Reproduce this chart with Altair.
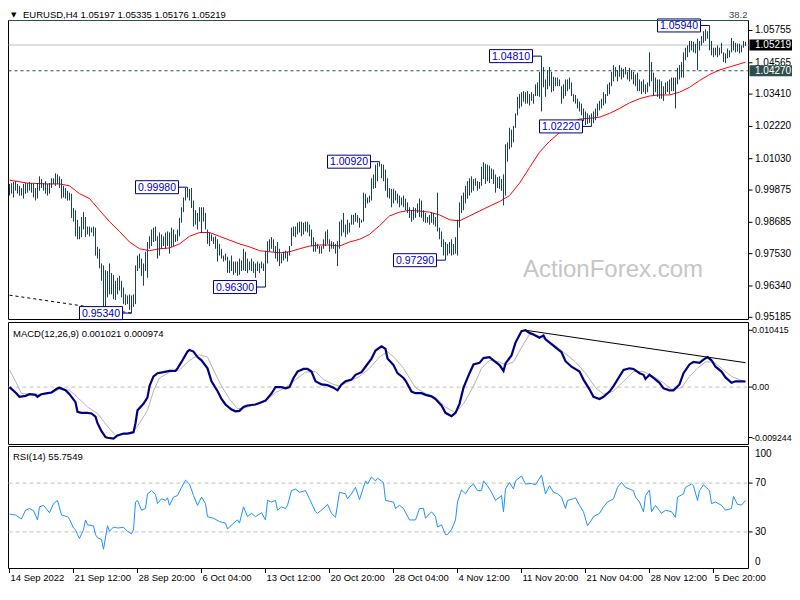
import altair as alt
import pandas as pd

# ---------------- price bars (H4, high / low) ----------------
HIGH = [
    1.0010, 1.0013, 1.0017, 1.0020, 1.0010, 1.0003, 0.9995, 1.0010, 1.0013, 1.0013,
    1.0017, 1.0013, 1.0010, 0.9995, 1.0013, 1.0038, 1.0028, 1.0013, 1.0020, 1.0010,
    1.0013, 1.0031, 1.0031, 1.0049, 1.0045, 1.0038, 1.0028, 1.0003, 0.9995, 0.9985,
    0.9978, 0.9974, 0.9921, 0.9913, 0.9878, 0.9853, 0.9888, 0.9906, 0.9888, 0.9853,
    0.9853, 0.9849, 0.9853, 0.9849, 0.9778, 0.9771, 0.9717, 0.9710, 0.9692, 0.9689,
    0.9717, 0.9682, 0.9675, 0.9653, 0.9664, 0.9671, 0.9653, 0.9628, 0.9603, 0.9599,
    0.9603, 0.9599, 0.9603, 0.9710, 0.9746, 0.9753, 0.9735, 0.9717, 0.9760, 0.9796,
    0.9817, 0.9842, 0.9849, 0.9853, 0.9817, 0.9831, 0.9824, 0.9817, 0.9831, 0.9835,
    0.9831, 0.9849, 0.9842, 0.9824, 0.9842, 0.9885, 0.9924, 0.9960, 0.9995, 0.9998,
    0.9992, 0.9995, 0.9949, 0.9913, 0.9903, 0.9924, 0.9924, 0.9924, 0.9903, 0.9842,
    0.9831, 0.9824, 0.9814, 0.9817, 0.9806, 0.9789, 0.9771, 0.9746, 0.9753, 0.9742,
    0.9728, 0.9746, 0.9724, 0.9724, 0.9724, 0.9735, 0.9728, 0.9771, 0.9760, 0.9735,
    0.9724, 0.9735, 0.9724, 0.9717, 0.9724, 0.9717, 0.9724, 0.9717, 0.9764, 0.9799,
    0.9806, 0.9814, 0.9806, 0.9781, 0.9796, 0.9771, 0.9753, 0.9760, 0.9764, 0.9760,
    0.9781, 0.9849, 0.9853, 0.9853, 0.9867, 0.9871, 0.9871, 0.9867, 0.9871, 0.9871,
    0.9860, 0.9842, 0.9814, 0.9796, 0.9789, 0.9781, 0.9781, 0.9806, 0.9835, 0.9842,
    0.9806, 0.9799, 0.9796, 0.9789, 0.9799, 0.9871, 0.9878, 0.9903, 0.9860, 0.9878,
    0.9867, 0.9896, 0.9896, 0.9903, 0.9896, 0.9885, 0.9878, 0.9978, 0.9974, 0.9960,
    0.9967, 1.0031, 1.0045, 1.0081, 1.0088, 1.0092, 1.0084, 1.0081, 1.0063, 1.0031,
    0.9995, 0.9992, 0.9992, 0.9985, 0.9974, 0.9967, 0.9960, 0.9967, 0.9956, 0.9942,
    0.9924, 0.9913, 0.9924, 0.9921, 0.9938, 0.9956, 0.9949, 0.9913, 0.9903, 0.9888,
    0.9896, 0.9906, 0.9903, 0.9888, 0.9978, 0.9849, 0.9835, 0.9806, 0.9796, 0.9789,
    0.9796, 0.9806, 0.9789, 0.9814, 0.9878, 0.9942, 0.9967, 0.9978, 1.0003, 1.0020,
    1.0031, 1.0038, 1.0028, 1.0031, 1.0020, 1.0017, 1.0074, 1.0090, 1.0084, 1.0081,
    1.0077, 1.0067, 1.0063, 1.0045, 1.0035, 1.0038, 1.0028, 1.0045, 1.0156, 1.0163,
    1.0217, 1.0210, 1.0224, 1.0270, 1.0331, 1.0341, 1.0348, 1.0352, 1.0348, 1.0352,
    1.0341, 1.0348, 1.0341, 1.0377, 1.0384, 1.0423, 1.0481, 1.0441, 1.0395, 1.0430,
    1.0441, 1.0423, 1.0405, 1.0402, 1.0402, 1.0395, 1.0370, 1.0377, 1.0395, 1.0395,
    1.0402, 1.0384, 1.0341, 1.0338, 1.0324, 1.0313, 1.0306, 1.0288, 1.0277, 1.0270,
    1.0263, 1.0270, 1.0277, 1.0288, 1.0306, 1.0316, 1.0324, 1.0348, 1.0341, 1.0377,
    1.0384, 1.0423, 1.0448, 1.0441, 1.0430, 1.0448, 1.0438, 1.0434, 1.0441, 1.0423,
    1.0438, 1.0430, 1.0423, 1.0413, 1.0420, 1.0395, 1.0388, 1.0395, 1.0377, 1.0384,
    1.0495, 1.0459, 1.0420, 1.0402, 1.0395, 1.0395, 1.0388, 1.0370, 1.0384, 1.0388,
    1.0395, 1.0402, 1.0402, 1.0402, 1.0438, 1.0448, 1.0459, 1.0495, 1.0512, 1.0520,
    1.0537, 1.0537, 1.0534, 1.0527, 1.0545, 1.0537, 1.0555, 1.0573, 1.0580, 1.0573,
    1.0594, 1.0537, 1.0512, 1.0512, 1.0520, 1.0512, 1.0530, 1.0495, 1.0491, 1.0509,
    1.0502, 1.0548, 1.0537, 1.0530, 1.0527, 1.0527, 1.0520, 1.0537, 1.0534,
]
LOW = [
    0.9967, 0.9974, 0.9960, 0.9985, 0.9974, 0.9967, 0.9967, 0.9956, 0.9974, 0.9978,
    0.9985, 0.9978, 0.9960, 0.9949, 0.9956, 0.9985, 0.9995, 0.9985, 0.9974, 0.9967,
    0.9974, 0.9995, 1.0010, 1.0003, 1.0010, 0.9995, 0.9956, 0.9960, 0.9956, 0.9949,
    0.9949, 0.9885, 0.9871, 0.9817, 0.9806, 0.9806, 0.9814, 0.9842, 0.9814, 0.9824,
    0.9817, 0.9831, 0.9817, 0.9746, 0.9735, 0.9699, 0.9653, 0.9550, 0.9557, 0.9592,
    0.9603, 0.9603, 0.9585, 0.9582, 0.9603, 0.9617, 0.9592, 0.9567, 0.9564, 0.9567,
    0.9546, 0.9534, 0.9557, 0.9567, 0.9689, 0.9699, 0.9671, 0.9635, 0.9689, 0.9664,
    0.9771, 0.9781, 0.9796, 0.9799, 0.9735, 0.9746, 0.9771, 0.9781, 0.9771, 0.9781,
    0.9753, 0.9778, 0.9781, 0.9796, 0.9799, 0.9817, 0.9867, 0.9906, 0.9949, 0.9960,
    0.9949, 0.9921, 0.9853, 0.9860, 0.9842, 0.9871, 0.9831, 0.9871, 0.9842, 0.9789,
    0.9781, 0.9799, 0.9789, 0.9771, 0.9724, 0.9746, 0.9735, 0.9724, 0.9728, 0.9682,
    0.9682, 0.9689, 0.9675, 0.9682, 0.9671, 0.9675, 0.9689, 0.9692, 0.9689, 0.9682,
    0.9692, 0.9689, 0.9682, 0.9664, 0.9689, 0.9682, 0.9699, 0.9689, 0.9630, 0.9717,
    0.9760, 0.9771, 0.9760, 0.9735, 0.9724, 0.9707, 0.9717, 0.9728, 0.9735, 0.9724,
    0.9746, 0.9781, 0.9817, 0.9814, 0.9824, 0.9831, 0.9817, 0.9824, 0.9835, 0.9831,
    0.9817, 0.9781, 0.9760, 0.9760, 0.9771, 0.9753, 0.9753, 0.9771, 0.9781, 0.9789,
    0.9760, 0.9771, 0.9771, 0.9753, 0.9707, 0.9771, 0.9817, 0.9831, 0.9814, 0.9824,
    0.9831, 0.9860, 0.9860, 0.9871, 0.9867, 0.9849, 0.9867, 0.9871, 0.9921, 0.9938,
    0.9942, 0.9949, 0.9992, 0.9995, 1.0020, 1.0074, 1.0031, 1.0020, 0.9985, 0.9960,
    0.9956, 0.9924, 0.9938, 0.9949, 0.9938, 0.9924, 0.9931, 0.9924, 0.9913, 0.9903,
    0.9885, 0.9871, 0.9878, 0.9885, 0.9903, 0.9888, 0.9885, 0.9871, 0.9867, 0.9867,
    0.9860, 0.9867, 0.9860, 0.9853, 0.9835, 0.9806, 0.9778, 0.9746, 0.9729, 0.9746,
    0.9753, 0.9746, 0.9749, 0.9753, 0.9746, 0.9849, 0.9903, 0.9913, 0.9938, 0.9956,
    0.9967, 0.9978, 0.9985, 1.0003, 0.9985, 0.9992, 1.0003, 1.0028, 1.0010, 1.0020,
    1.0013, 1.0028, 1.0010, 0.9978, 0.9995, 0.9992, 0.9985, 0.9931, 0.9967, 1.0092,
    1.0138, 1.0145, 1.0163, 1.0217, 1.0263, 1.0288, 1.0295, 1.0313, 1.0306, 1.0306,
    1.0299, 1.0316, 1.0306, 1.0334, 1.0334, 1.0331, 1.0277, 1.0366, 1.0331, 1.0359,
    1.0370, 1.0348, 1.0352, 1.0370, 1.0370, 1.0370, 1.0306, 1.0324, 1.0334, 1.0352,
    1.0359, 1.0334, 1.0313, 1.0306, 1.0288, 1.0277, 1.0263, 1.0242, 1.0227, 1.0231,
    1.0234, 1.0222, 1.0234, 1.0245, 1.0259, 1.0281, 1.0288, 1.0299, 1.0306, 1.0334,
    1.0341, 1.0370, 1.0388, 1.0405, 1.0388, 1.0405, 1.0395, 1.0402, 1.0413, 1.0395,
    1.0388, 1.0395, 1.0377, 1.0370, 1.0352, 1.0352, 1.0341, 1.0348, 1.0341, 1.0348,
    1.0370, 1.0388, 1.0334, 1.0348, 1.0331, 1.0324, 1.0324, 1.0316, 1.0341, 1.0348,
    1.0341, 1.0352, 1.0352, 1.0288, 1.0377, 1.0395, 1.0402, 1.0402, 1.0466, 1.0477,
    1.0495, 1.0502, 1.0495, 1.0491, 1.0430, 1.0502, 1.0520, 1.0530, 1.0537, 1.0545,
    1.0502, 1.0484, 1.0477, 1.0484, 1.0477, 1.0484, 1.0491, 1.0459, 1.0455, 1.0473,
    1.0477, 1.0495, 1.0502, 1.0495, 1.0498, 1.0491, 1.0495, 1.0512, 1.0518,
]

# ---------------- moving average (read at sample bars) ----------------
MA_BAR = [0, 9, 19, 25, 30, 35, 40, 45, 50, 55,
          60, 65, 70, 75, 80, 85, 90, 95, 100, 105,
          110, 115, 120, 125, 130, 135, 140, 145, 150, 155,
          160, 165, 170, 175, 180, 185, 190, 195, 200, 205,
          210, 215, 220, 225, 230, 235, 240, 245, 250, 255,
          260, 265, 270, 275, 280, 285, 290, 295, 300, 305,
          310, 315, 320, 325, 330, 335, 340, 345, 350, 355,
          360, 365, 368]
MA_VAL = [1.0024, 1.0013, 1.0010, 1.0010, 1.0003, 0.9974, 0.9956, 0.9913, 0.9871, 0.9835,
          0.9796, 0.9771, 0.9764, 0.9771, 0.9774, 0.9789, 0.9817, 0.9831, 0.9831, 0.9817,
          0.9803, 0.9789, 0.9778, 0.9764, 0.9760, 0.9756, 0.9760, 0.9771, 0.9781, 0.9785,
          0.9785, 0.9781, 0.9796, 0.9806, 0.9824, 0.9856, 0.9892, 0.9906, 0.9913, 0.9910,
          0.9906, 0.9896, 0.9878, 0.9874, 0.9892, 0.9910, 0.9928, 0.9945, 0.9967, 1.0013,
          1.0070, 1.0127, 1.0167, 1.0199, 1.0231, 1.0249, 1.0252, 1.0256, 1.0270, 1.0288,
          1.0309, 1.0324, 1.0334, 1.0338, 1.0338, 1.0348, 1.0366, 1.0391, 1.0413, 1.0430,
          1.0441, 1.0452, 1.0459]

# ---------------- MACD(12,26,9) ----------------
MACD_BAR = [0, 3, 5, 8, 10, 13, 14, 16, 19, 21,
            24, 25, 28, 30, 33, 34, 36, 39, 41, 43,
            44, 46, 48, 49, 52, 54, 57, 59, 62, 63,
            64, 67, 69, 70, 72, 74, 77, 80, 83, 84,
            86, 89, 90, 92, 94, 96, 99, 101, 104, 106,
            108, 111, 113, 115, 117, 119, 123, 126, 128, 131,
            133, 136, 138, 140, 142, 144, 147, 149, 151, 153,
            156, 159, 162, 164, 166, 168, 171, 173, 176, 178,
            181, 183, 186, 188, 189, 192, 194, 197, 198, 201,
            203, 206, 208, 211, 213, 216, 218, 221, 223, 225,
            227, 230, 232, 235, 237, 240, 242, 245, 247, 248,
            251, 253, 256, 258, 260, 262, 265, 267, 268, 271,
            273, 276, 278, 281, 285, 287, 290, 292, 295, 297,
            300, 302, 305, 307, 310, 312, 315, 317, 318, 320,
            322, 325, 327, 330, 332, 335, 337, 340, 342, 345,
            347, 349, 351, 353, 356, 358, 361, 363, 366, 368]
MACD_VAL = [0.0, -0.00099, -0.00177, -0.00160, -0.00130, -0.00142, -0.00177, -0.00130, -0.00112, -0.00099,
            -0.00023, -0.00011, -0.00059, -0.00130, -0.00277, -0.00454, -0.00472, -0.00472, -0.00484, -0.00543,
            -0.00662, -0.00809, -0.00915, -0.00928, -0.00946, -0.00887, -0.00852, -0.00852, -0.00827, -0.00662,
            -0.00426, -0.00307, -0.00188, 0.00018, 0.00195, 0.00255, 0.00273, 0.00296, 0.00296, 0.00344,
            0.00461, 0.00651, 0.00681, 0.00651, 0.00550, 0.00491, 0.00344, 0.00106, -0.00071, -0.00218,
            -0.00319, -0.00413, -0.00444, -0.00436, -0.00365, -0.00337, -0.00319, -0.00277, -0.00248, -0.00117,
            0.0, 0.0, -0.00023, 0.0, 0.00167, 0.00284, 0.00332, 0.00332, 0.00284, 0.00106,
            0.00048, 0.00035, -0.00011, -0.00059, 0.00048, 0.00106, 0.00137, 0.00225, 0.00273, 0.00373,
            0.00522, 0.00669, 0.00745, 0.00699, 0.00522, 0.00403, 0.00255, 0.00167, 0.00119, -0.00082,
            -0.00112, -0.00112, -0.00142, -0.00170, -0.00218, -0.00337, -0.00472, -0.00532, -0.00472, -0.00307,
            -0.00011, 0.00255, 0.00415, 0.00444, 0.00532, 0.00550, 0.00491, 0.00403, 0.00296, 0.00433,
            0.00580, 0.00816, 0.01024, 0.01041, 0.00993, 0.00965, 0.00905, 0.00947, 0.00876, 0.00788,
            0.00727, 0.00639, 0.00474, 0.00373, 0.00284, 0.00137, -0.00041, -0.00177, -0.00218, -0.00177,
            -0.00082, 0.00018, 0.00195, 0.00314, 0.00344, 0.00332, 0.00255, 0.00225, 0.00149, 0.00225,
            0.00167, 0.00078, -0.00023, -0.00059, -0.00059, 0.00048, 0.00255, 0.00415, 0.00461, 0.00444,
            0.00504, 0.00550, 0.00491, 0.00373, 0.00284, 0.00177, 0.00078, 0.00106, 0.00106, 0.00102]

SIGNAL_BAR = [0, 3, 6, 10, 15, 20, 25, 30, 34, 39,
              44, 49, 53, 57, 62, 65, 69, 72, 75, 80,
              85, 90, 95, 99, 102, 106, 110, 114, 118, 123,
              128, 133, 138, 143, 148, 153, 157, 162, 165, 170,
              175, 180, 185, 189, 193, 197, 203, 208, 213, 218,
              223, 227, 232, 236, 240, 245, 248, 252, 256, 260,
              264, 268, 273, 278, 283, 288, 293, 297, 302, 307,
              312, 317, 322, 327, 331, 336, 340, 344, 348, 352,
              356, 361, 365, 368]
SIGNAL_VAL = [0.00314, 0.00106, -0.00117, -0.00130, -0.00130, -0.00117, -0.00041, -0.00059, -0.00188, -0.00365,
              -0.00484, -0.00720, -0.00887, -0.00869, -0.00809, -0.00662, -0.00426, -0.00071, 0.00167, 0.00273,
              0.00314, 0.00491, 0.00593, 0.00550, 0.00314, 0.00018, -0.00218, -0.00396, -0.00378, -0.00319,
              -0.00259, -0.00099, -0.00011, 0.00137, 0.00273, 0.00284, 0.00137, 0.00048, 0.00018, 0.00106,
              0.00195, 0.00344, 0.00550, 0.00651, 0.00522, 0.00344, -0.00011, -0.00117, -0.00188, -0.00365,
              -0.00472, -0.00307, 0.00018, 0.00344, 0.00491, 0.00461, 0.00403, 0.00461, 0.00727, 0.00965,
              0.00947, 0.00876, 0.00758, 0.00610, 0.00461, 0.00255, -0.00011, -0.00130, -0.00071, 0.00106,
              0.00284, 0.00284, 0.00195, 0.00078, -0.00041, -0.00011, 0.00195, 0.00344, 0.00461, 0.00461,
              0.00344, 0.00195, 0.00137, 0.00097]

# ---------------- RSI(14) ----------------
RSI_BAR = [0, 3, 6, 8, 10, 12, 14, 15, 17, 20,
           22, 24, 26, 29, 30, 32, 33, 34, 35, 37,
           38, 39, 42, 43, 44, 46, 47, 49, 50, 52,
           54, 57, 59, 61, 62, 63, 64, 66, 68, 69,
           71, 73, 74, 76, 78, 79, 80, 82, 84, 86,
           88, 90, 92, 94, 96, 98, 99, 102, 105, 108,
           109, 112, 114, 115, 117, 119, 121, 123, 126, 128,
           129, 131, 133, 134, 136, 138, 139, 141, 143, 145,
           148, 150, 153, 154, 157, 159, 161, 163, 165, 168,
           169, 171, 173, 175, 178, 179, 181, 183, 184, 187,
           188, 192, 193, 195, 197, 200, 203, 205, 207, 208,
           211, 213, 214, 216, 218, 219, 221, 222, 223, 224,
           226, 228, 230, 232, 234, 236, 237, 239, 241, 243,
           246, 247, 248, 250, 252, 253, 256, 258, 261, 263,
           266, 268, 270, 272, 274, 276, 278, 279, 282, 283,
           285, 287, 289, 291, 292, 295, 297, 299, 302, 304,
           306, 308, 312, 313, 315, 317, 318, 320, 321, 323,
           326, 328, 331, 333, 334, 337, 338, 341, 342, 344,
           345, 347, 350, 351, 353, 356, 358, 361, 362, 364, 366, 368]
RSI_VAL = [44.6, 43.8, 40.6, 47.8, 49.2, 47.3, 39.8, 50.5, 51.8, 45.7,
           53.2, 55.8, 43.8, 42.5, 40.4, 33.2, 31.8, 27.8, 24.6, 31.8,
           39.8, 35.8, 35.0, 27.8, 25.2, 23.8, 15.8, 35.0, 30.5, 34.0,
           33.2, 33.7, 30.5, 28.4, 31.8, 54.5, 55.8, 47.8, 49.2, 61.2,
           63.8, 60.6, 53.2, 57.2, 55.8, 58.0, 51.8, 58.5, 59.8, 66.5,
           72.4, 69.2, 59.8, 51.8, 58.5, 53.2, 42.5, 41.2, 38.5, 37.2,
           32.4, 37.2, 39.8, 37.2, 50.5, 42.5, 45.2, 42.5, 45.7, 39.8,
           55.8, 54.5, 55.8, 47.8, 50.5, 49.2, 51.8, 63.8, 65.2, 62.5,
           63.8, 57.2, 46.5, 45.2, 49.2, 52.6, 45.2, 42.0, 62.5, 61.2,
           57.2, 61.2, 66.5, 56.4, 71.8, 69.2, 75.0, 71.8, 74.0, 70.5,
           55.8, 54.5, 49.2, 51.8, 49.2, 39.8, 39.8, 49.2, 49.2, 41.2,
           46.5, 42.5, 34.0, 35.8, 27.8, 27.8, 31.8, 35.8, 39.8, 54.5,
           64.4, 61.2, 66.5, 69.2, 63.8, 63.8, 71.8, 67.8, 62.5, 55.8,
           59.8, 46.5, 65.2, 70.5, 65.2, 71.8, 75.8, 69.2, 69.7, 68.6,
           76.6, 61.2, 67.8, 62.5, 61.2, 58.5, 49.2, 55.8, 57.2, 58.0,
           51.8, 46.5, 35.0, 39.8, 42.5, 45.2, 50.5, 54.5, 57.2, 66.5,
           70.5, 66.5, 63.8, 58.5, 54.5, 46.5, 59.8, 64.4, 46.5, 51.8,
           45.2, 47.8, 46.5, 42.0, 58.5, 61.2, 66.5, 69.2, 67.8, 55.8,
           63.8, 68.6, 63.8, 53.2, 54.5, 51.8, 47.8, 49.2, 59.0, 52.6, 52.0, 55.75]

# ---------------- annotations / axis labels ----------------
SWING_BAR = [89, 185, 61, 128, 218, 266, 291, 350]
SWING_PRICE = [0.9998, 1.0092, 0.9534, 0.9630, 0.9729, 1.0481, 1.0222, 1.0594]
SWING_TEXT = ["0.99980", "1.00920", "0.95340", "0.96300", "0.97290", "1.04810", "1.02220", "1.05940"]
BID_PRICE = 1.05219
LEVEL_PRICE = 1.04270
TREND_P_BAR = [0, 61]
TREND_P_VAL = [0.9600, 0.9534]
TREND_M_BAR = [258, 368]
TREND_M_VAL = [0.01042, 0.00447]
PRICE_TICKS = [1.05755, 1.04565, 1.03410, 1.02220, 1.01030, 0.99875, 0.98685, 0.97530, 0.96340, 0.95185]
MACD_TICKS = [0.010415, 0.0, -0.009244]
MACD_TICK_TEXT = ["0.010415", "0.00", "-0.009244"]
RSI_LEVELS = [70, 30]
DATE_BARS = [0, 32, 64, 96, 128, 160, 192, 224, 256, 288, 320, 352]
DATE_LABELS = ["14 Sep 2022", "21 Sep 12:00", "28 Sep 20:00", "6 Oct 04:00", "13 Oct 12:00",
               "20 Oct 20:00", "28 Oct 04:00", "4 Nov 12:00", "11 Nov 20:00", "21 Nov 04:00",
               "28 Nov 12:00", "5 Dec 20:00"]

# ---------------- layout ----------------
N = len(HIGH)
W, H = 784, 576
L, R = 0.5, 740.5
P_TOP, P_BOT = 12.5, 311.5
M_TOP, M_BOT = 314.5, 436.5
R_TOP, R_BOT = 438.5, 560.5
FONT = "Liberation Sans"
BAR_C = "#1a4060"
SLATE = "#2F4F4F"

# two pixels per bar, bars centred on half pixels so every 1px bar is crisp
xs = alt.Scale(domain=[0, N - 1], range=[1.5, 1.5 + 2 * (N - 1)], nice=False, zero=False)
ps = alt.Scale(domain=[0.95104, 1.06123], range=[P_BOT, P_TOP], nice=False, zero=False)
ms = alt.Scale(domain=[-0.010522, 0.011835], range=[M_BOT, M_TOP], nice=False, zero=False)
rs = alt.Scale(domain=[0, 100], range=[R_BOT, R_TOP], nice=False, zero=False)


def X():
    return alt.X("i:Q", scale=xs, axis=None)


def Y(scale):
    return alt.Y("v:Q", scale=scale, axis=None)


ONE = pd.DataFrame({"k": [0]})
bars_df = pd.DataFrame({"i": list(range(N)), "high": HIGH, "low": LOW})
ma_df = pd.DataFrame({"i": MA_BAR, "v": MA_VAL})
macd_df = pd.DataFrame({"i": MACD_BAR, "v": MACD_VAL})
sig_df = pd.DataFrame({"i": SIGNAL_BAR, "v": SIGNAL_VAL})
rsi_df = pd.DataFrame({"i": RSI_BAR, "v": RSI_VAL})
swing_df = pd.DataFrame({"i": SWING_BAR, "v": SWING_PRICE, "t": SWING_TEXT})
trend_p_df = pd.DataFrame({"i": TREND_P_BAR, "v": TREND_P_VAL})
trend_m_df = pd.DataFrame({"i": TREND_M_BAR, "v": TREND_M_VAL})
ptick_df = pd.DataFrame({"v": PRICE_TICKS, "t": [f"{v:.5f}" for v in PRICE_TICKS]})
mtick_df = pd.DataFrame({"v": MACD_TICKS, "t": MACD_TICK_TEXT})
zero_df = pd.DataFrame({"v": [0.0]})
rlev_df = pd.DataFrame({"v": RSI_LEVELS, "t": [str(v) for v in RSI_LEVELS]})
date_df = pd.DataFrame({"i": DATE_BARS, "t": DATE_LABELS})
bid_df = pd.DataFrame({"v": [BID_PRICE]})
lvl_df = pd.DataFrame({"v": [LEVEL_PRICE]})
cur_df = pd.DataFrame({"v": [BID_PRICE, LEVEL_PRICE],
                       "t": [f"{BID_PRICE:.5f}", f"{LEVEL_PRICE:.5f}"],
                       "c": ["#000000", SLATE]})

layers = []

# watermark
layers.append(alt.Chart(ONE).mark_text(text="ActionForex.com", font=FONT, fontSize=24,
                                       color="#C6C6C6", align="center", baseline="middle")
              .encode(x=alt.value(605), y=alt.value(262)))

# panel frames
for top, bot in [(P_TOP, P_BOT), (M_TOP, M_BOT), (R_TOP, R_BOT)]:
    layers.append(alt.Chart(ONE).mark_rect(fill="white", fillOpacity=0, stroke="black", strokeWidth=1)
                  .encode(x=alt.value(L), x2=alt.value(R), y=alt.value(top), y2=alt.value(bot)))

# price panel lines
layers.append(alt.Chart(bid_df).mark_rule(color="#C0C0C0", strokeWidth=1)
              .encode(x=alt.value(L), x2=alt.value(R), y=Y(ps)))
layers.append(alt.Chart(lvl_df).mark_rule(color=SLATE, strokeWidth=1, strokeDash=[3, 3])
              .encode(x=alt.value(L), x2=alt.value(R), y=Y(ps)))
layers.append(alt.Chart(ma_df).mark_line(color="#FF0000", strokeWidth=1)
              .encode(x=X(), y=Y(ps)))
layers.append(alt.Chart(bars_df).mark_rule(color=BAR_C, strokeWidth=1)
              .encode(x=X(), y=alt.Y("low:Q", scale=ps, axis=None), y2="high:Q"))
layers.append(alt.Chart(trend_p_df).mark_line(color="black", strokeWidth=1, strokeDash=[3, 3])
              .encode(x=X(), y=Y(ps)))

# swing labels
layers.append(alt.Chart(swing_df).mark_rule(color="#000080", strokeWidth=1, xOffset=-9)
              .encode(x=X(), x2="i:Q", y=Y(ps)))
layers.append(alt.Chart(swing_df).mark_rect(fill="white", stroke="#000080", strokeWidth=1,
                                            xOffset=-52, x2Offset=-9, yOffset=-6.5, y2Offset=6.5)
              .encode(x=X(), x2="i:Q", y=Y(ps), y2="v:Q"))
layers.append(alt.Chart(swing_df).mark_text(font=FONT, fontSize=10.5, color="#0000CD",
                                            align="center", baseline="middle", dx=-30.5, dy=0.5)
              .encode(x=X(), y=Y(ps), text="t:N"))

# top fib line and label
layers.append(alt.Chart(ONE).mark_rule(color=SLATE, strokeWidth=1)
              .encode(x=alt.value(0), x2=alt.value(R), y=alt.value(P_TOP)))
layers.append(alt.Chart(ONE).mark_text(text="38.2", font=FONT, fontSize=9.5, color="#404848",
                                       align="right", baseline="alphabetic")
              .encode(x=alt.value(R - 1), y=alt.value(9.5)))

# MACD panel
layers.append(alt.Chart(zero_df).mark_rule(color="#C0C0C0", strokeWidth=1, strokeDash=[4, 3])
              .encode(x=alt.value(L), x2=alt.value(R), y=Y(ms)))
layers.append(alt.Chart(sig_df).mark_line(color="#B4B4B4", strokeWidth=1)
              .encode(x=X(), y=Y(ms)))
layers.append(alt.Chart(macd_df).mark_line(color="#000080", strokeWidth=2.2)
              .encode(x=X(), y=Y(ms)))
layers.append(alt.Chart(trend_m_df).mark_line(color="black", strokeWidth=1)
              .encode(x=X(), y=Y(ms)))

# RSI panel
layers.append(alt.Chart(rlev_df).mark_rule(color="#C0C0C0", strokeWidth=1, strokeDash=[4, 3])
              .encode(x=alt.value(L), x2=alt.value(R), y=Y(rs)))
layers.append(alt.Chart(rsi_df).mark_line(color="#1E90FF", strokeWidth=1)
              .encode(x=X(), y=Y(rs)))

# right axes
TX = 747
layers.append(alt.Chart(ptick_df).mark_rule(color="black", strokeWidth=1)
              .encode(x=alt.value(R), x2=alt.value(R + 4), y=Y(ps)))
layers.append(alt.Chart(ptick_df).mark_text(font=FONT, fontSize=10, color="black",
                                            align="left", baseline="middle")
              .encode(x=alt.value(TX), y=Y(ps), text="t:N"))
layers.append(alt.Chart(mtick_df).mark_rule(color="black", strokeWidth=1)
              .encode(x=alt.value(R), x2=alt.value(R + 4), y=Y(ms)))
layers.append(alt.Chart(mtick_df).mark_text(font=FONT, fontSize=8.8, color="black",
                                            align="left", baseline="middle", dx=-3)
              .encode(x=alt.value(TX), y=Y(ms), text="t:N"))
layers.append(alt.Chart(rlev_df).mark_rule(color="black", strokeWidth=1)
              .encode(x=alt.value(R), x2=alt.value(R + 4), y=Y(rs)))
layers.append(alt.Chart(rlev_df).mark_text(font=FONT, fontSize=10, color="black",
                                           align="left", baseline="middle")
              .encode(x=alt.value(TX), y=Y(rs), text="t:N"))
layers.append(alt.Chart(ONE).mark_text(text="100", font=FONT, fontSize=10, color="black",
                                       align="left", baseline="middle")
              .encode(x=alt.value(TX), y=alt.value(R_TOP + 7)))
layers.append(alt.Chart(ONE).mark_text(text="0", font=FONT, fontSize=10, color="black",
                                       align="left", baseline="middle")
              .encode(x=alt.value(TX), y=alt.value(R_BOT - 7)))

# current price boxes
layers.append(alt.Chart(cur_df).mark_rect(yOffset=-5.5, y2Offset=5.5)
              .encode(x=alt.value(R + 1), x2=alt.value(784), y=Y(ps), y2="v:Q",
                      fill=alt.Fill("c:N", scale=None)))
layers.append(alt.Chart(cur_df).mark_text(font=FONT, fontSize=10, color="white",
                                          align="left", baseline="middle")
              .encode(x=alt.value(TX), y=Y(ps), text="t:N"))

# time axis
layers.append(alt.Chart(date_df).mark_rule(color="black", strokeWidth=1)
              .encode(x=X(), y=alt.value(R_BOT), y2=alt.value(R_BOT + 4.5)))
layers.append(alt.Chart(date_df).mark_text(font=FONT, fontSize=9.5, color="black",
                                           align="left", baseline="alphabetic", dx=1)
              .encode(x=X(), y=alt.value(572.5), text="t:N"))

# titles
layers.append(alt.Chart(ONE).mark_text(text="\u25bc", font="DejaVu Sans", fontSize=7, color="black",
                                       align="left", baseline="alphabetic")
              .encode(x=alt.value(3), y=alt.value(9)))
layers.append(alt.Chart(ONE).mark_text(text="EURUSD,H4  1.05197 1.05335 1.05176 1.05219",
                                       font=FONT, fontSize=9.5, color="black",
                                       align="left", baseline="alphabetic")
              .encode(x=alt.value(15), y=alt.value(9.5)))
layers.append(alt.Chart(ONE).mark_text(text="MACD(12,26,9) 0.001021 0.000974", font=FONT, fontSize=9.5,
                                       color="black", align="left", baseline="alphabetic")
              .encode(x=alt.value(5), y=alt.value(M_TOP + 14)))
layers.append(alt.Chart(ONE).mark_text(text="RSI(14) 55.7549", font=FONT, fontSize=9.5,
                                       color="black", align="left", baseline="alphabetic")
              .encode(x=alt.value(5), y=alt.value(R_TOP + 13)))

chart = (alt.layer(*layers)
         .resolve_scale(y="independent")
         .properties(width=W, height=H, padding=0, background="white",
                     autosize=alt.AutoSizeParams(type="none"))
         .configure_view(strokeWidth=0))

chart.save("out.html", embed_options={"renderer": "svg", "actions": False})
